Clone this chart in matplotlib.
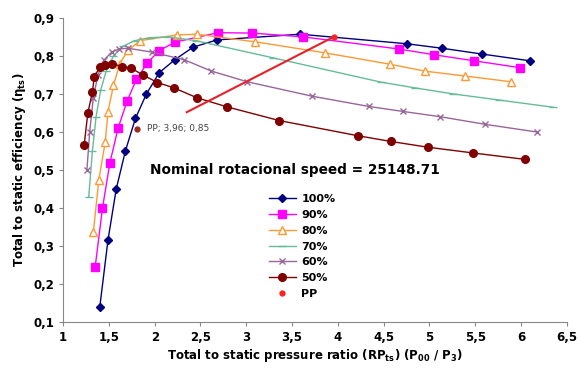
import matplotlib
matplotlib.use('Agg')
import matplotlib.pyplot as plt
from matplotlib.ticker import FuncFormatter

# speed lines: total-to-static pressure ratio vs efficiency
x100 = [1.40, 1.49, 1.58, 1.68, 1.79, 1.91, 2.05, 2.22, 2.42, 2.68, 3.59, 4.75, 5.14, 5.57, 6.10]
y100 = [0.139, 0.316, 0.45, 0.55, 0.636, 0.70, 0.756, 0.79, 0.823, 0.842, 0.857, 0.832, 0.82, 0.805, 0.787]

x90 = [1.35, 1.43, 1.51, 1.60, 1.70, 1.80, 1.92, 2.05, 2.22, 2.69, 3.06, 3.62, 4.67, 5.05, 5.49, 5.99]
y90 = [0.245, 0.40, 0.518, 0.61, 0.682, 0.738, 0.782, 0.814, 0.836, 0.861, 0.86, 0.85, 0.818, 0.803, 0.787, 0.769]

x80 = [1.33, 1.39, 1.46, 1.49, 1.55, 1.62, 1.71, 1.84, 2.24, 2.46, 3.10, 3.86, 4.57, 4.95, 5.39, 5.89]
y80 = [0.336, 0.474, 0.574, 0.653, 0.723, 0.78, 0.815, 0.84, 0.855, 0.857, 0.837, 0.808, 0.778, 0.76, 0.747, 0.732]

x70 = [1.28, 1.32, 1.36, 1.41, 1.47, 1.55, 1.65, 1.78, 1.95, 2.15, 2.45, 3.29, 4.47, 4.84, 5.26, 5.76, 6.35]
y70 = [0.43, 0.55, 0.64, 0.71, 0.76, 0.80, 0.825, 0.84, 0.848, 0.85, 0.84, 0.795, 0.731, 0.716, 0.70, 0.684, 0.665]

x60 = [1.26, 1.29, 1.33, 1.38, 1.45, 1.53, 1.61, 1.71, 1.97, 2.32, 2.62, 3.01, 3.72, 4.34, 4.71, 5.12, 5.61, 6.17]
y60 = [0.50, 0.60, 0.69, 0.75, 0.79, 0.81, 0.818, 0.82, 0.81, 0.79, 0.76, 0.732, 0.694, 0.667, 0.654, 0.64, 0.62, 0.60]

x50 = [1.23, 1.27, 1.32, 1.34, 1.40, 1.46, 1.53, 1.64, 1.74, 1.87, 2.03, 2.21, 2.46, 2.79, 3.36, 4.22, 4.58, 4.98, 5.47, 6.04]
y50 = [0.566, 0.65, 0.705, 0.745, 0.77, 0.776, 0.78, 0.772, 0.768, 0.75, 0.73, 0.716, 0.69, 0.666, 0.63, 0.59, 0.575, 0.56, 0.545, 0.528]

# design point and the red pointer line
pp_x = [3.96]
pp_y = [0.85]
line_x = [2.35, 3.93]
line_y = [0.652, 0.847]

fig = plt.figure(figsize=(5.79, 3.72), dpi=100)
ax = fig.add_axes([0.109, 0.134, 0.870, 0.818])

ax.plot(x100, y100, color='#000080', marker='D', markersize=4, lw=1, label='100%')
ax.plot(x90, y90, color='#FF00FF', marker='s', markersize=6, lw=1, label='90%')
ax.plot(x80, y80, color='#FF9933', marker='^', markersize=6, mfc='white', lw=1, label='80%')
ax.plot(x70, y70, color='#66BB99', marker='_', markersize=6, lw=1, label='70%')
ax.plot(x60, y60, color='#996699', marker='x', markersize=4, lw=1, label='60%')
ax.plot(x50, y50, color='#800000', marker='o', markersize=5.5, lw=1, label='50%')
ax.plot(pp_x, pp_y, color='#FF2020', marker='o', markersize=3.5, lw=0, label='PP')
ax.plot(line_x, line_y, color='#E8202A', lw=1.5)

ax.plot([1.81], [0.608], marker='o', color='#9E2A1A', markersize=3.5)
ax.text(1.92, 0.608, 'PP; 3,96; 0,85', fontsize=6.5, color='#444444', va='center')

ax.text(1.95, 0.50, 'Nominal rotacional speed = 25148.71', fontsize=9.8,
        fontweight='bold', va='center')

ax.set_xlim(1, 6.5)
ax.set_ylim(0.1, 0.9)
ax.set_xticks([1 + 0.5 * i for i in range(12)])
ax.set_yticks([0.1 * i for i in range(1, 10)])
comma = FuncFormatter(lambda v, p: ('%g' % round(v, 2)).replace('.', ','))
ax.xaxis.set_major_formatter(comma)
ax.yaxis.set_major_formatter(comma)
for lab in ax.get_xticklabels() + ax.get_yticklabels():
    lab.set_fontweight('bold')
    lab.set_fontsize(8.5)
ax.tick_params(direction='out', length=3, color='#888888')

ax.spines['top'].set_visible(False)
ax.spines['right'].set_visible(False)
ax.spines['left'].set_color('#888888')
ax.spines['bottom'].set_color('#888888')

ax.set_xlabel('Total to static pressure ratio (RP$_{\\mathbf{ts}}$) (P$_{\\mathbf{00}}$ / P$_{\\mathbf{3}}$)',
              fontsize=8.5, fontweight='bold', labelpad=2)
ax.set_ylabel('Total to static efficiency ($\\mathbf{\\eta_{ts}}$)', fontsize=8.5,
              fontweight='bold', labelpad=4)

ax.legend(loc='upper left', bbox_to_anchor=(0.40, 0.435), frameon=False,
          prop={'weight': 'bold', 'size': 8}, handlelength=2.4,
          labelspacing=0.52, borderaxespad=0, handletextpad=0.5)

fig.savefig('out.png', dpi=100)
